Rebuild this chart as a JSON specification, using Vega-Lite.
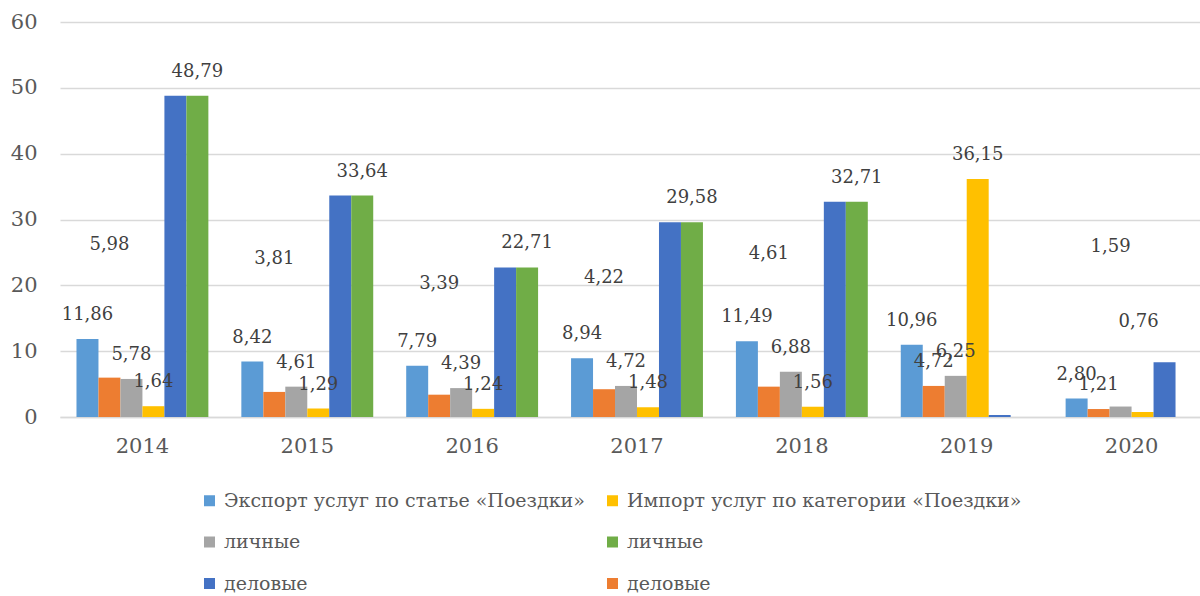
{
  "$schema": "https://vega.github.io/schema/vega-lite/v6.json",
  "width": 1140,
  "height": 395,
  "autosize": {"type": "none"},
  "padding": {"left": 60, "top": 22, "right": 0, "bottom": 179},
  "background": "white",
  "config": {
    "view": {"stroke": null},
    "locale": {"number": {"decimal": ",", "thousands": " ", "grouping": [3], "currency": ["", ""]}},
    "font": "DejaVu Serif"
  },
  "data": {
    "values": [
      {"year": 2014, "s": "s1", "v": 11.86}, {"year": 2014, "s": "s2", "v": 5.98}, {"year": 2014, "s": "s3", "v": 5.78}, {"year": 2014, "s": "s4", "v": 1.64}, {"year": 2014, "s": "s5", "v": 48.79}, {"year": 2014, "s": "s6", "v": 48.79},
      {"year": 2015, "s": "s1", "v": 8.42}, {"year": 2015, "s": "s2", "v": 3.81}, {"year": 2015, "s": "s3", "v": 4.61}, {"year": 2015, "s": "s4", "v": 1.29}, {"year": 2015, "s": "s5", "v": 33.64}, {"year": 2015, "s": "s6", "v": 33.64},
      {"year": 2016, "s": "s1", "v": 7.79}, {"year": 2016, "s": "s2", "v": 3.39}, {"year": 2016, "s": "s3", "v": 4.39}, {"year": 2016, "s": "s4", "v": 1.24}, {"year": 2016, "s": "s5", "v": 22.71}, {"year": 2016, "s": "s6", "v": 22.71},
      {"year": 2017, "s": "s1", "v": 8.94}, {"year": 2017, "s": "s2", "v": 4.22}, {"year": 2017, "s": "s3", "v": 4.72}, {"year": 2017, "s": "s4", "v": 1.48}, {"year": 2017, "s": "s5", "v": 29.58}, {"year": 2017, "s": "s6", "v": 29.58},
      {"year": 2018, "s": "s1", "v": 11.49}, {"year": 2018, "s": "s2", "v": 4.61}, {"year": 2018, "s": "s3", "v": 6.88}, {"year": 2018, "s": "s4", "v": 1.56}, {"year": 2018, "s": "s5", "v": 32.71}, {"year": 2018, "s": "s6", "v": 32.71},
      {"year": 2019, "s": "s1", "v": 10.96}, {"year": 2019, "s": "s2", "v": 4.72}, {"year": 2019, "s": "s3", "v": 6.25}, {"year": 2019, "s": "s4", "v": 36.15}, {"year": 2019, "s": "s5", "v": 0.3},
      {"year": 2020, "s": "s1", "v": 2.8}, {"year": 2020, "s": "s2", "v": 1.21}, {"year": 2020, "s": "s3", "v": 1.59}, {"year": 2020, "s": "s4", "v": 0.76}, {"year": 2020, "s": "s5", "v": 8.3}
    ]
  },
  "encoding": {
    "x": {
      "field": "year", "type": "ordinal",
      "scale": {"paddingInner": 0.2, "paddingOuter": 0.1, "range": [0, 1154]},
      "axis": {"title": null, "labelAngle": 0, "labelFont": "DejaVu Serif", "labelFontSize": 21, "labelColor": "#595959", "labelPadding": 18, "ticks": false, "domainColor": "#D9D9D9", "domainWidth": 1.3, "grid": false}
    },
    "xOffset": {"field": "s", "type": "nominal", "sort": ["s1", "s2", "s3", "s4", "s5", "s6"], "scale": {"paddingInner": 0, "paddingOuter": 0}},
    "y": {
      "field": "v", "type": "quantitative",
      "scale": {"domain": [0, 60], "nice": false},
      "axis": {"title": null, "values": [0, 10, 20, 30, 40, 50, 60], "labelFont": "DejaVu Serif", "labelFontSize": 21, "labelColor": "#595959", "labelPadding": 23, "ticks": false, "domain": false, "gridColor": "#D9D9D9", "gridWidth": 1.3}
    }
  },
  "layer": [
    {
      "mark": {"type": "bar"},
      "encoding": {
        "color": {
          "field": "s", "type": "nominal",
          "scale": {"domain": ["s1", "s3", "s5", "s4", "s6", "s2"], "range": ["#5B9BD5", "#A5A5A5", "#4472C4", "#FFC000", "#70AD47", "#ED7D31"]},
          "legend": {
            "title": null, "orient": "none", "legendX": 140, "legendY": 469, "columns": 2, "columnPadding": 18, "rowPadding": 21.5,
            "symbolType": "square", "symbolSize": 121, "symbolStrokeWidth": 0, "labelOffset": 5,
            "labelFont": "DejaVu Serif", "labelFontSize": 19, "labelColor": "#595959", "labelLimit": 600,
            "labelExpr": "datum.label == 's1' ? 'Экспорт услуг по статье «Поездки»' : datum.label == 's4' ? 'Импорт услуг по категории «Поездки»' : (datum.label == 's3' || datum.label == 's6') ? '\u2002личные' : '\u2002деловые'"
          }
        }
      }
    },
    {
      "transform": [{"filter": "datum.s != 's5' && !(datum.s == 's2' && datum.year <= 2018) && !(datum.year == 2020 && (datum.s == 's3' || datum.s == 's4'))"}],
      "mark": {"type": "text", "baseline": "middle", "dy": -24, "font": "DejaVu Serif", "fontSize": 18, "color": "#404040"},
      "encoding": {"text": {"field": "v", "type": "quantitative", "format": ".2f"}}
    },
    {
      "transform": [{"filter": "datum.s == 's2' && (datum.year == 2014 || datum.year == 2015 || datum.year == 2018)"}],
      "mark": {"type": "text", "baseline": "middle", "dy": -133, "font": "DejaVu Serif", "fontSize": 18, "color": "#404040"},
      "encoding": {"text": {"field": "v", "type": "quantitative", "format": ".2f"}}
    },
    {
      "transform": [{"filter": "datum.s == 's2' && (datum.year == 2016 || datum.year == 2017)"}],
      "mark": {"type": "text", "baseline": "middle", "dy": -111, "font": "DejaVu Serif", "fontSize": 18, "color": "#404040"},
      "encoding": {"text": {"field": "v", "type": "quantitative", "format": ".2f"}}
    },
    {
      "transform": [{"filter": "datum.s == 's3' && datum.year == 2020"}],
      "mark": {"type": "text", "baseline": "middle", "dy": -160, "dx": -10, "font": "DejaVu Serif", "fontSize": 18, "color": "#404040"},
      "encoding": {"text": {"field": "v", "type": "quantitative", "format": ".2f"}}
    },
    {
      "transform": [{"filter": "datum.s == 's4' && datum.year == 2020"}],
      "mark": {"type": "text", "baseline": "middle", "dy": -90, "dx": -4, "font": "DejaVu Serif", "fontSize": 18, "color": "#404040"},
      "encoding": {"text": {"field": "v", "type": "quantitative", "format": ".2f"}}
    }
  ]
}
